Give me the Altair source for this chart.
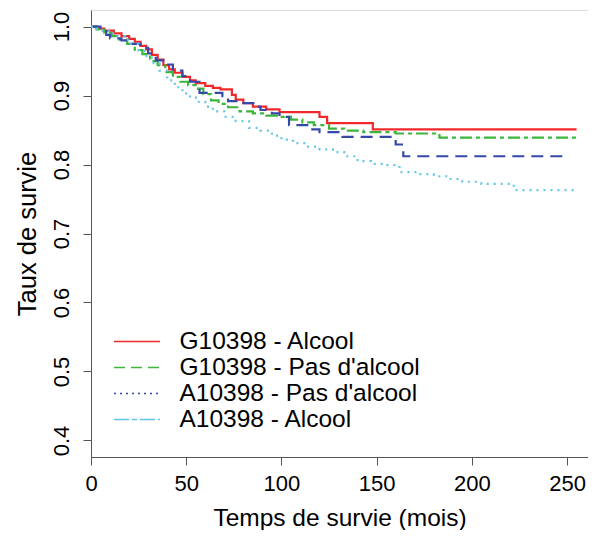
import altair as alt
import pandas as pd

series_names = ["G10398 - Alcool", "G10398 - Pas d'alcool", "A10398 - Pas d'alcool", "A10398 - Alcool"]
colors = ["#f0282a", "#3cb53c", "#3549a8", "#62c6e8"]
curve_dashes = [[1, 0], [12, 4, 4, 4], [12, 7], [2, 5]]
legend_dashes = [[1, 0], [11, 6], [2, 4], [15, 3, 5, 3]]

red_t = [0, 3, 7, 12, 16, 20, 23, 26, 29, 32, 35, 38, 41, 44, 48, 52, 55, 60, 64, 68, 74, 76, 80, 85, 92, 99, 120, 124, 148, 255]
red_s = [1.0, 0.997, 0.994, 0.990, 0.986, 0.982, 0.978, 0.972, 0.967, 0.959, 0.952, 0.944, 0.938, 0.933, 0.927, 0.922, 0.918, 0.914, 0.911, 0.909, 0.901, 0.894, 0.889, 0.884, 0.880, 0.876, 0.869, 0.860, 0.851, 0.851]

green_t = [0, 3, 7, 11, 15, 19, 23, 27, 31, 35, 39, 43, 47, 51, 55, 59, 63, 67, 72, 78, 85, 92, 99, 105, 111, 117, 125, 133, 143, 160, 183, 255]
green_s = [1.0, 0.996, 0.991, 0.986, 0.981, 0.975, 0.966, 0.960, 0.950, 0.944, 0.934, 0.927, 0.920, 0.915, 0.910, 0.902, 0.893, 0.888, 0.883, 0.877, 0.874, 0.871, 0.869, 0.865, 0.861, 0.857, 0.852, 0.849, 0.847, 0.845, 0.839, 0.839]

blue_t = [0, 5, 8, 10, 16, 21, 26, 30, 34, 38, 43, 48, 52, 57, 69, 72, 80, 86, 89, 95, 99, 104, 115, 120, 132, 160, 164, 251]
blue_s = [1.0, 0.995, 0.988, 0.983, 0.980, 0.975, 0.969, 0.961, 0.951, 0.945, 0.936, 0.928, 0.920, 0.904, 0.899, 0.892, 0.889, 0.884, 0.879, 0.874, 0.869, 0.857, 0.851, 0.847, 0.840, 0.829, 0.812, 0.812]

cyan_t = [0, 3, 6, 10, 14, 18, 21, 25, 28, 32, 36, 40, 44, 48, 52, 56, 60, 64, 70, 76, 83, 89, 95, 100, 106, 112, 120, 127, 133, 140, 147, 155, 162, 172, 180, 188, 195, 205, 222, 254]
cyan_s = [1.0, 0.997, 0.994, 0.990, 0.986, 0.981, 0.975, 0.965, 0.957, 0.947, 0.936, 0.922, 0.912, 0.903, 0.897, 0.891, 0.884, 0.877, 0.869, 0.863, 0.853, 0.849, 0.842, 0.836, 0.831, 0.826, 0.822, 0.818, 0.812, 0.805, 0.801, 0.799, 0.789, 0.786, 0.783, 0.779, 0.775, 0.772, 0.763, 0.763]

x_ticks = [0, 50, 100, 150, 200, 250]
y_ticks = [0.4, 0.5, 0.6, 0.7, 0.8, 0.9, 1.0]

FONT = "Liberation Sans"
AXIS_GREY = "#555555"

x_enc = alt.X(
    "t:Q",
    scale=alt.Scale(domain=[0, 261.0], nice=False, zero=False),
    axis=alt.Axis(values=x_ticks, title="Temps de survie (mois)", grid=False,
                  tickSize=8, tickColor=AXIS_GREY, domainColor=AXIS_GREY,
                  labelFontSize=22, titleFontSize=24.5, labelPadding=8, titlePadding=12,
                  labelFlush=False, labelFont=FONT, titleFont=FONT,
                  labelColor="black", titleColor="black", titleFontWeight="normal"),
)
y_enc = alt.Y(
    "s:Q",
    scale=alt.Scale(domain=[0.376, 1.024], nice=False, zero=False),
    axis=alt.Axis(values=y_ticks, format=".1f", title="Taux de survie", grid=False,
                  tickSize=8, tickColor=AXIS_GREY, domainColor=AXIS_GREY,
                  labelFontSize=22, titleFontSize=25.5, labelAngle=270,
                  labelAlign="center", labelBaseline="bottom", labelPadding=10,
                  labelFlush=False, titlePadding=10, labelFont=FONT, titleFont=FONT,
                  labelColor="black", titleColor="black", titleFontWeight="normal"),
)

all_t = [red_t, green_t, blue_t, cyan_t]
all_s = [red_s, green_s, blue_s, cyan_s]

layers = []
for i in range(4):
    df = pd.DataFrame({"t": all_t[i], "s": all_s[i]})
    layers.append(
        alt.Chart(df).mark_line(interpolate="step-after", strokeWidth=2.2,
                                color=colors[i], strokeDash=curve_dashes[i])
        .encode(x=x_enc, y=y_enc)
    )

leg_df = pd.DataFrame({"serie": series_names, "t": [0] * 4, "s": [1.0] * 4})
legend = alt.Legend(orient="none", legendX=33.5, legendY=319, title=None,
                    symbolType="M-2,0H2", symbolSize=529, symbolStrokeWidth=1.5,
                    labelFontSize=24.5, labelFont=FONT, labelColor="black",
                    labelOffset=30, rowPadding=1, padding=0, labelLimit=400)
legend_layer = alt.Chart(leg_df).mark_line().encode(
    x=x_enc, y=y_enc,
    color=alt.Color("serie:N", scale=alt.Scale(domain=series_names, range=colors),
                    sort=series_names, legend=legend),
    strokeDash=alt.StrokeDash("serie:N", scale=alt.Scale(domain=series_names, range=legend_dashes),
                              sort=series_names, legend=legend),
)

chart = alt.layer(*layers, legend_layer).properties(
    width=497, height=447,
    autosize=alt.AutoSizeParams(type="none"),
    padding={"left": 83, "top": 2, "right": 0, "bottom": 73},
).configure_view(stroke=AXIS_GREY, strokeWidth=1.5).configure(background="white")

chart.save("out.html", embed_options={"renderer": "svg", "actions": False})
